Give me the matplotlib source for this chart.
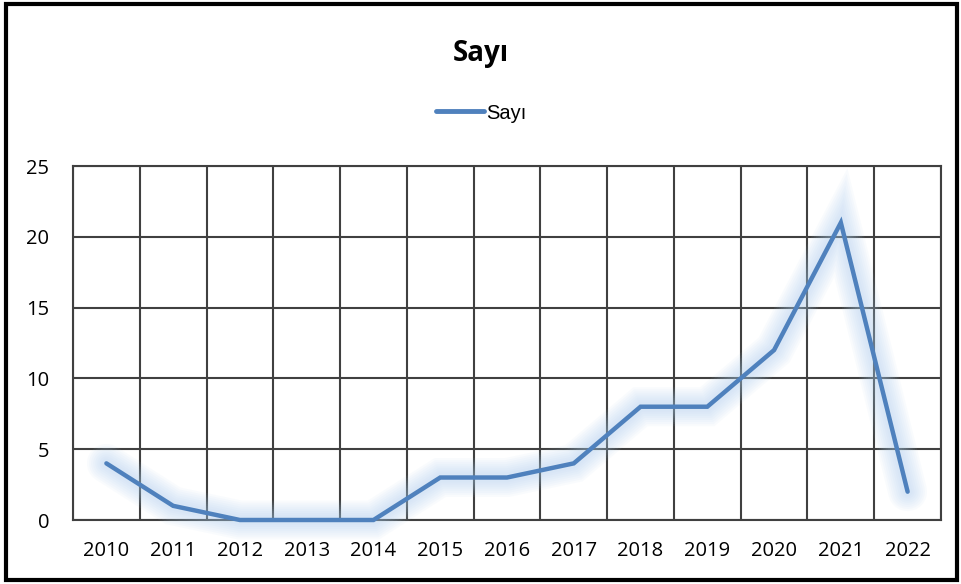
import matplotlib
matplotlib.use('Agg')
from matplotlib import pyplot as plt
from matplotlib import patheffects as pe
from matplotlib.patches import Rectangle
import numpy as np

years = ['2010', '2011', '2012', '2013', '2014', '2015', '2016',
         '2017', '2018', '2019', '2020', '2021', '2022']
sayi = [4, 1, 0, 0, 0, 3, 3, 4, 8, 8, 12, 21, 2]

blue = '#4F81BD'
glow = '#A9CBEE'
grid = '#404040'

fig = plt.figure(figsize=(9.62, 5.84), dpi=100)
ax = fig.add_axes([73/962, 64/584, 868/962, 354/584])

x = np.arange(len(years))

# soft glow under the line, Excel style
effects = []
for w in range(28, 4, -3):
    effects.append(pe.Stroke(linewidth=w, foreground=glow, alpha=0.065))
effects.append(pe.Normal())
ax.plot(x, sayi, color=blue, lw=3.2, label='Sayı',
        solid_capstyle='round', solid_joinstyle='miter',
        path_effects=effects, zorder=3, clip_on=False)

ax.set_xlim(-0.5, len(years) - 0.5)
ax.set_ylim(0, 25)
ax.set_yticks(range(0, 26, 5))
ax.set_xticks(x)
ax.set_xticklabels(years)
ax.set_xticks(np.arange(-0.5, len(years), 1), minor=True)

ax.grid(True, which='minor', axis='x', color=grid, lw=1.5)
ax.grid(True, which='major', axis='y', color=grid, lw=1.5)
ax.set_axisbelow(True)
for s in ax.spines.values():
    s.set_color(grid)
    s.set_linewidth(1.5)
ax.tick_params(which='both', length=0)
ax.tick_params(axis='y', pad=17)
ax.tick_params(axis='x', pad=15)
for t in ax.get_xticklabels() + ax.get_yticklabels():
    t.set_family('Open Sans')
    t.set_fontsize(14.5)

fig.text(0.5, 1 - 53/584, 'Sayı', ha='center', va='center',
         fontsize=20, fontweight='bold', family='Open Sans')

leg = fig.legend(loc='center', bbox_to_anchor=(0.5, 1 - 113/584),
                 frameon=False, handlelength=2.4, handletextpad=0.1,
                 prop={'family': 'Liberation Sans', 'size': 14.5})
for h in leg.get_lines():
    h.set_path_effects([])
    h.set_linewidth(3.5)

fig.patches.append(Rectangle((6/962, 4/584), 951/962, 576/584,
                             transform=fig.transFigure, fill=False,
                             edgecolor='black', lw=3))

plt.savefig('out.png', dpi=100)
